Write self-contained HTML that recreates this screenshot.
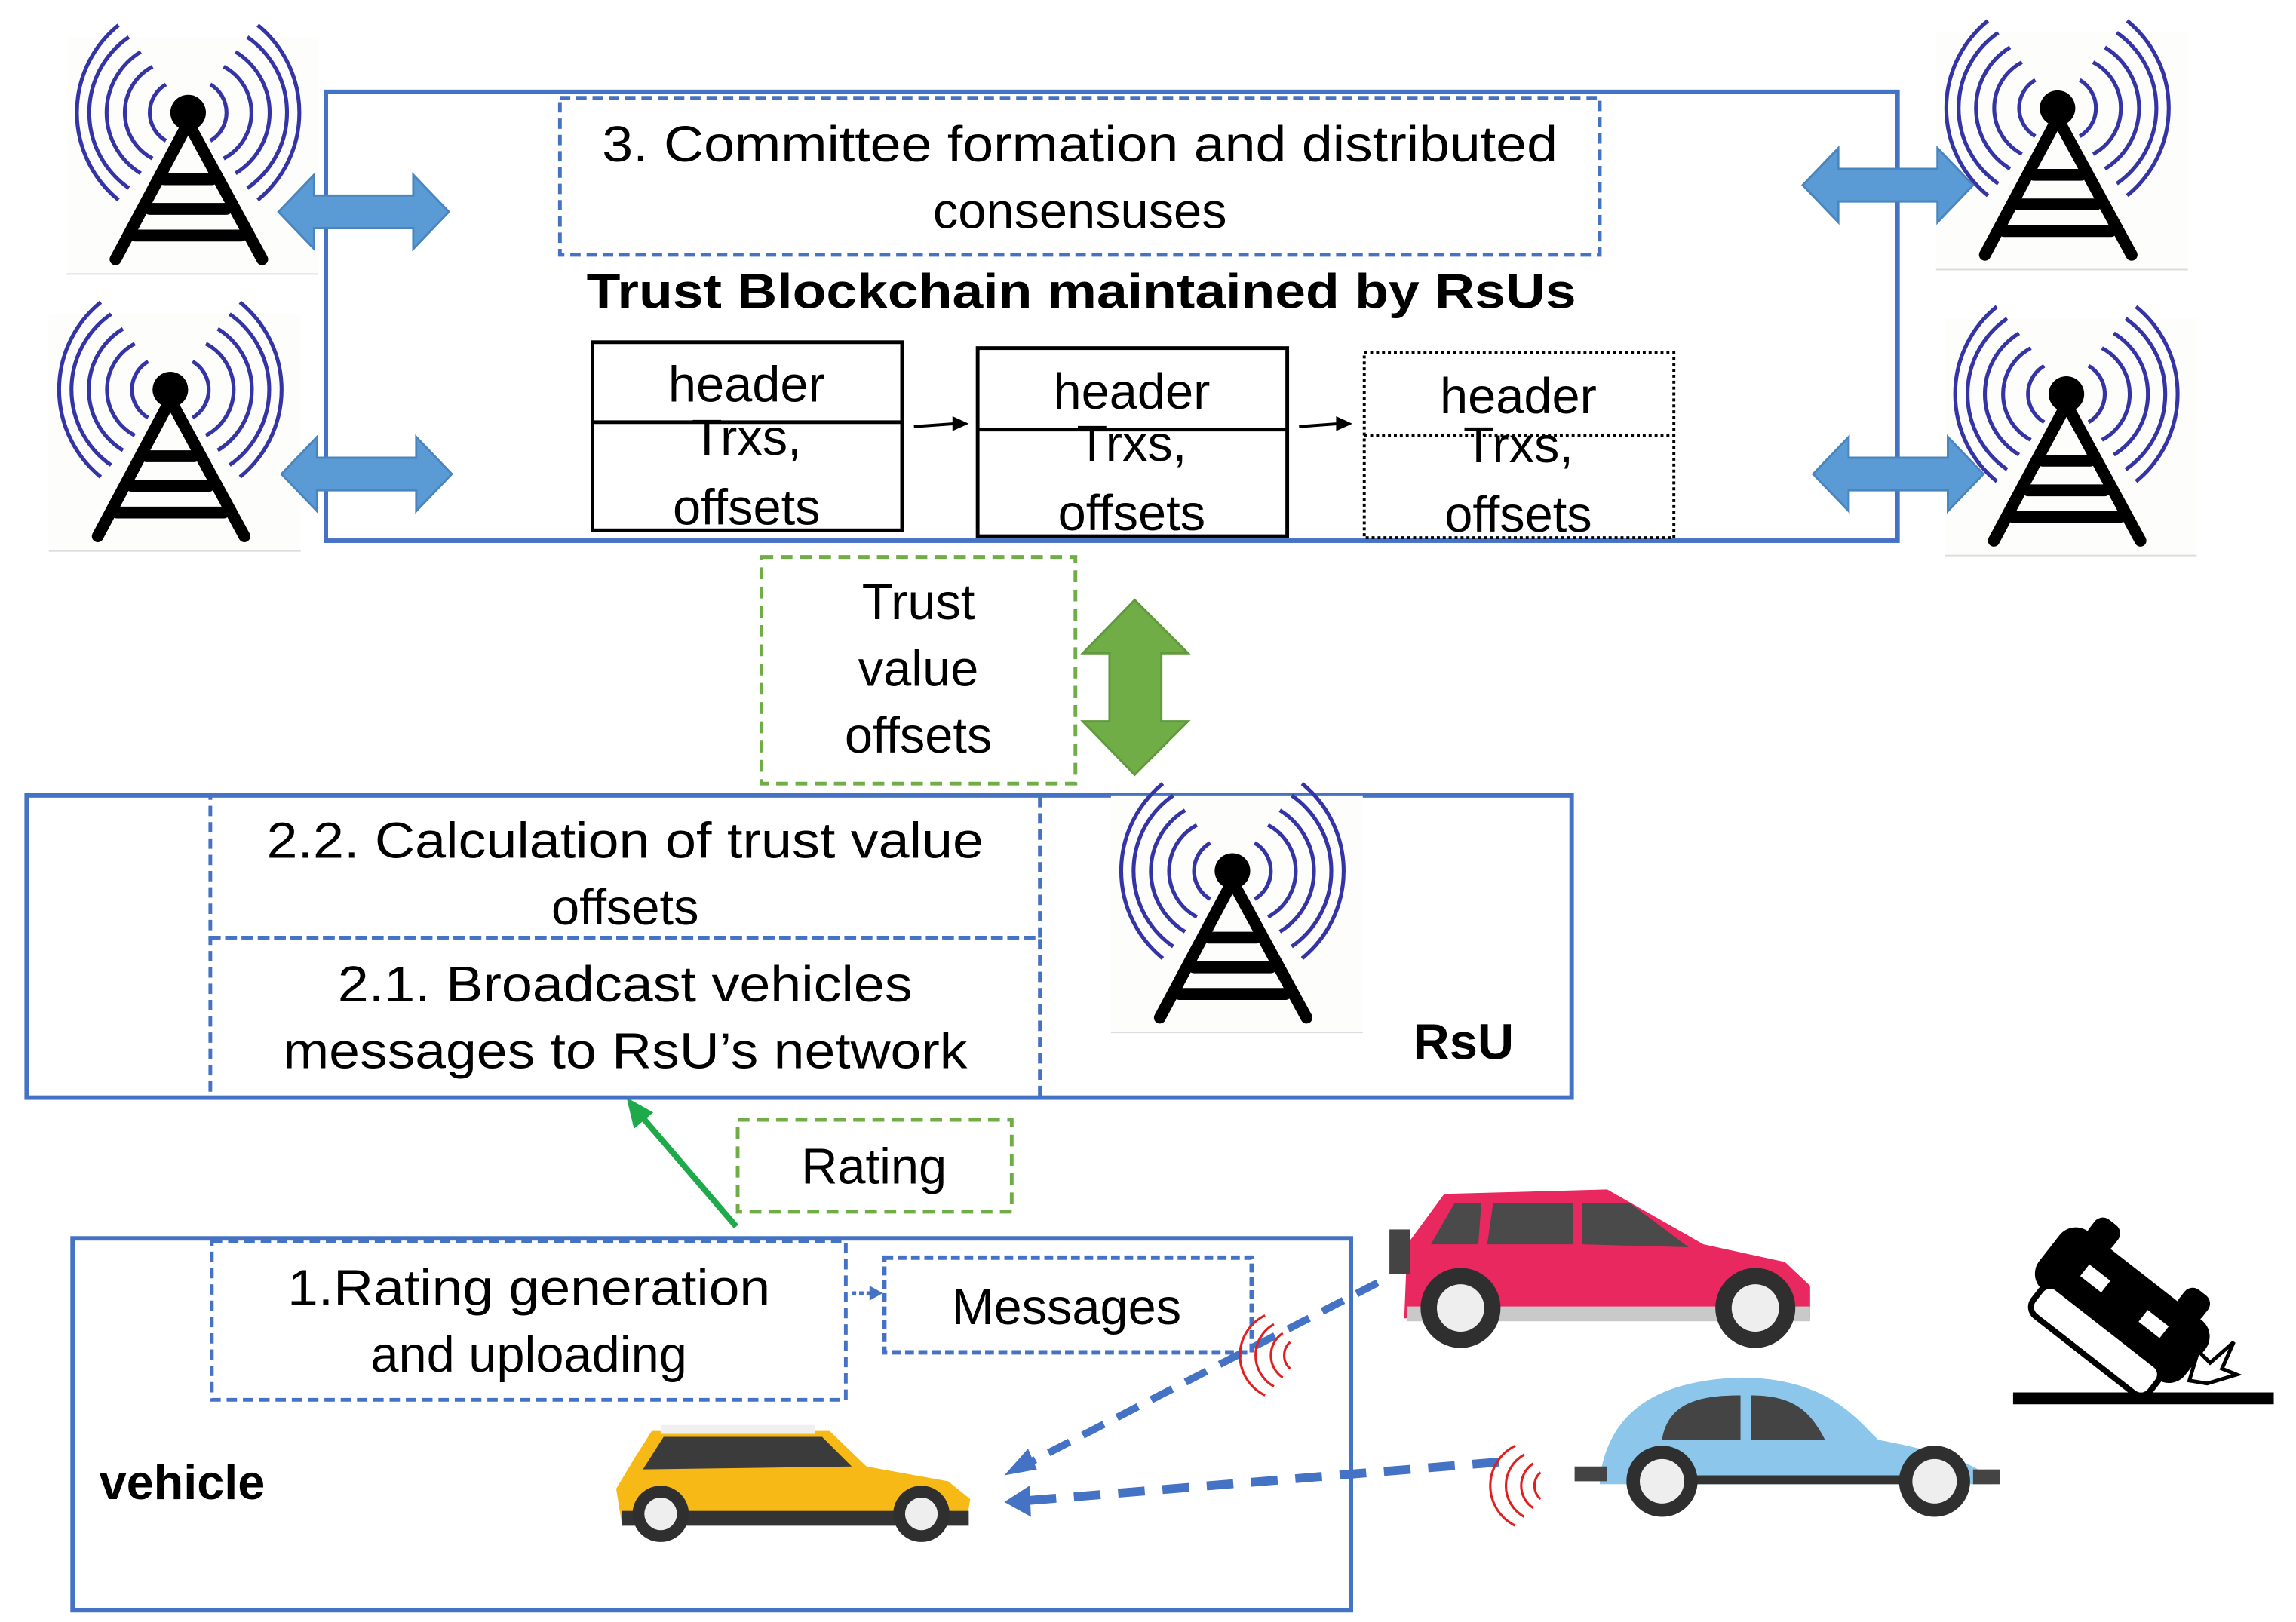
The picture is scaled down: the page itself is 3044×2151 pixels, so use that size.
<!DOCTYPE html>
<html><head><meta charset="utf-8"><style>
html,body{margin:0;padding:0;background:#fff;}
svg{display:block;}
text{font-family:"Liberation Sans",Arial,sans-serif;fill:#000;}
</style></head><body>
<svg width="3044" height="2151" viewBox="0 0 1550 1095" preserveAspectRatio="none" xmlns="http://www.w3.org/2000/svg">
<defs>
<g id="tower">
  <rect x="0" y="0" width="170" height="160" fill="#fdfdfb"/>
  <line x1="0" y1="160" x2="170" y2="160" stroke="#ddd" stroke-width="1"/>
  <g fill="none" stroke="#3434a6" stroke-width="2.6">
    <path d="M67,32 A22,22 0 0 0 67,70"/><path d="M97,32 A22,22 0 0 1 97,70"/>
    <path d="M58,20 A35,35 0 0 0 58,82"/><path d="M106,20 A35,35 0 0 1 106,82"/>
    <path d="M50,10 A48,48 0 0 0 50,92"/><path d="M114,10 A48,48 0 0 1 114,92"/>
    <path d="M42,0 A62,62 0 0 0 42,102"/><path d="M122,0 A62,62 0 0 1 122,102"/>
    <path d="M35,-8 A76,76 0 0 0 35,110"/><path d="M129,-8 A76,76 0 0 1 129,110"/>
  </g>
  <circle cx="82" cy="51" r="12" fill="#000"/>
  <g stroke="#000" stroke-width="8" stroke-linecap="round" fill="none">
    <path d="M82,58 L33,150 M82,58 L132,150"/>
    <line x1="66" y1="96" x2="98" y2="96"/>
    <line x1="56" y1="116" x2="108" y2="116"/>
    <line x1="46" y1="134" x2="118" y2="134"/>
  </g>
</g>
<g id="harrow">
  <path d="M0,25 L24,0 L24,14 L91,14 L91,0 L115,25 L91,50 L91,36 L24,36 L24,50 Z" fill="#5b9bd5" stroke="#4a86bd" stroke-width="1.5"/>
</g>
<g id="signal" fill="none" stroke="#e02020" stroke-width="1.6">
  <path d="M18,8 A30,30 0 0 0 18,62"/>
  <path d="M24,14 A24,24 0 0 0 24,56"/>
  <path d="M30,20 A18,18 0 0 0 30,50"/>
  <path d="M35,26 A12,12 0 0 0 35,44"/>
</g>
</defs>

<rect x="220" y="62" width="1061" height="303" fill="none" stroke="#4472c4" stroke-width="3"/>
<rect x="378" y="66" width="702" height="106" fill="none" stroke="#4472c4" stroke-width="2.5" stroke-dasharray="7,4"/>
<text x="729" y="109" font-size="34" text-anchor="middle" textLength="645" lengthAdjust="spacingAndGlyphs">3. Committee formation and distributed</text>
<text x="729" y="154" font-size="34" text-anchor="middle">consensuses</text>
<text x="730" y="208" font-size="33" font-weight="bold" text-anchor="middle" textLength="668" lengthAdjust="spacingAndGlyphs">Trust Blockchain maintained by RsUs</text>

<g font-size="34" text-anchor="middle">
<rect x="400" y="231" width="209" height="127" fill="#fff" stroke="#000" stroke-width="2.5"/>
<line x1="400" y1="285" x2="609" y2="285" stroke="#000" stroke-width="2.5"/>
<text x="504" y="271">header</text><text x="504" y="307">Trxs,</text><text x="504" y="354">offsets</text>
<rect x="660" y="235" width="209" height="127" fill="#fff" stroke="#000" stroke-width="2.5"/>
<line x1="660" y1="290" x2="869" y2="290" stroke="#000" stroke-width="2.5"/>
<text x="764" y="276">header</text><text x="764" y="311">Trxs,</text><text x="764" y="358">offsets</text>
<rect x="921" y="238" width="209" height="125" fill="#fff" stroke="#000" stroke-width="2" stroke-dasharray="2,2"/>
<line x1="921" y1="294" x2="1130" y2="294" stroke="#000" stroke-width="2" stroke-dasharray="2,2"/>
<text x="1025" y="279">header</text><text x="1025" y="312">Trxs,</text><text x="1025" y="359">offsets</text>
</g>
<line x1="617" y1="288" x2="645" y2="286" stroke="#000" stroke-width="2"/>
<path d="M643,281 L654,286 L643,291 Z" fill="#000"/>
<line x1="877" y1="288" x2="904" y2="286" stroke="#000" stroke-width="2"/>
<path d="M902,281 L913,286 L902,291 Z" fill="#000"/>

<use href="#tower" x="45" y="25"/>
<use href="#tower" x="33" y="212"/>
<use href="#tower" x="1307" y="22"/>
<use href="#tower" x="1313" y="215"/>
<use href="#harrow" x="188" y="118"/>
<use href="#harrow" x="190" y="295"/>
<use href="#harrow" x="1217" y="100"/>
<use href="#harrow" x="1224" y="295"/>

<rect x="514" y="376" width="212" height="153" fill="none" stroke="#70ad47" stroke-width="2.5" stroke-dasharray="8,5"/>
<g font-size="34" text-anchor="middle">
<text x="620" y="418">Trust</text><text x="620" y="463">value</text><text x="620" y="508">offsets</text>
</g>
<path d="M766,405 L802,441 L784,441 L784,487 L802,487 L766,523 L731,487 L749,487 L749,441 L731,441 Z" fill="#70ad47" stroke="#5f9a3b" stroke-width="1.5"/>

<rect x="18" y="537" width="1043" height="204" fill="none" stroke="#4472c4" stroke-width="3"/>
<rect x="142" y="537" width="560" height="96" fill="none" stroke="#4472c4" stroke-width="2.5" stroke-dasharray="7,4"/>
<rect x="142" y="633" width="560" height="108" fill="none" stroke="#4472c4" stroke-width="2.5" stroke-dasharray="7,4"/>
<g font-size="34" text-anchor="middle">
<text x="422" y="579" textLength="484" lengthAdjust="spacingAndGlyphs">2.2. Calculation of trust value</text>
<text x="422" y="624">offsets</text>
<text x="422" y="676" textLength="388" lengthAdjust="spacingAndGlyphs">2.1. Broadcast vehicles</text>
<text x="422" y="721" textLength="462" lengthAdjust="spacingAndGlyphs">messages to RsU’s network</text>
</g>
<use href="#tower" x="750" y="537"/>
<text x="988" y="715" font-size="34" font-weight="bold" text-anchor="middle">RsU</text>

<line x1="497" y1="828" x2="430" y2="750" stroke="#1ea94a" stroke-width="4"/>
<path d="M423,741 L441,751 L428,762 Z" fill="#1ea94a"/>
<rect x="498" y="756" width="185" height="62" fill="#fff" stroke="#70ad47" stroke-width="2.5" stroke-dasharray="8,5"/>
<text x="590" y="799" font-size="34" text-anchor="middle">Rating</text>

<rect x="49" y="836" width="863" height="251" fill="none" stroke="#4472c4" stroke-width="3"/>
<rect x="143" y="838" width="428" height="107" fill="none" stroke="#4472c4" stroke-width="2.5" stroke-dasharray="7,4"/>
<text x="357" y="881" font-size="34" text-anchor="middle" textLength="326" lengthAdjust="spacingAndGlyphs">1.Rating generation</text>
<text x="357" y="926" font-size="34" text-anchor="middle">and uploading</text>
<line x1="575" y1="873" x2="588" y2="873" stroke="#4472c4" stroke-width="2.5" stroke-dasharray="3,2"/>
<path d="M587,868 L596,873 L587,878 Z" fill="#4472c4"/>
<rect x="597" y="849" width="248" height="64" fill="#fff" stroke="#4472c4" stroke-width="3" stroke-dasharray="6,3"/>
<text x="720" y="894" font-size="34" text-anchor="middle">Messages</text>
<text x="67" y="1012" font-size="33" font-weight="bold">vehicle</text>

<line x1="930" y1="866" x2="692" y2="989" stroke="#4472c4" stroke-width="5" stroke-dasharray="16,10"/>
<path d="M678,996 L694,978 L700,992 Z" fill="#4472c4"/>
<line x1="1012" y1="987" x2="694" y2="1013" stroke="#4472c4" stroke-width="6" stroke-dasharray="18,12"/>
<path d="M678,1014 L695,1003 L696,1024 Z" fill="#4472c4"/>
<use href="#signal" x="836" y="880"/>
<use href="#signal" x="1005" y="968"/>

<!-- yellow car -->
<g>
<path d="M428,985 L440,966 L560,966 L585,990 L640,1000 L655,1012 L652,1030 L420,1030 L416,1005 Z" fill="#f6b915"/>
<path d="M434,992 L448,970 L555,970 L575,990 Z" fill="#3b3b3b"/>
<rect x="446" y="962" width="104" height="6" fill="#f0f0f0"/>
<rect x="420" y="1020" width="234" height="10" fill="#333"/>
<circle cx="446" cy="1022" r="19" fill="#2f2f2f"/><circle cx="446" cy="1022" r="11" fill="#eee"/>
<circle cx="622" cy="1022" r="19" fill="#2f2f2f"/><circle cx="622" cy="1022" r="11" fill="#eee"/>
</g>
<!-- red car -->
<g>
<path d="M950,840 L975,806 L1085,803 L1150,840 L1205,852 L1222,868 L1222,890 L948,890 Z" fill="#e8285f"/>
<path d="M966,840 L982,812 L1000,812 L998,840 Z M1004,840 L1008,812 L1062,812 L1062,840 Z M1068,840 L1068,812 L1100,812 L1140,842 Z" fill="#4a4a4a"/>
<rect x="938" y="830" width="14" height="30" fill="#444"/>
<rect x="950" y="882" width="272" height="10" fill="#c9c9c9"/>
<circle cx="986" cy="883" r="27" fill="#2f2f2f"/><circle cx="986" cy="883" r="16" fill="#eee"/>
<circle cx="1185" cy="883" r="27" fill="#2f2f2f"/><circle cx="1185" cy="883" r="16" fill="#eee"/>
</g>
<!-- blue car -->
<g>
<path d="M1080,998 C1085,960 1110,932 1175,930 C1235,930 1255,960 1268,972 C1310,980 1342,990 1345,1002 L1080,1002 Z" fill="#8cc6ea"/>
<path d="M1122,972 C1126,948 1145,942 1175,942 L1175,972 Z M1182,972 L1182,942 C1210,942 1222,952 1232,972 Z" fill="#444"/>
<rect x="1130" y="996" width="175" height="6" fill="#333"/>
<rect x="1063" y="990" width="22" height="10" fill="#444"/>
<rect x="1332" y="992" width="18" height="10" fill="#444"/>
<circle cx="1122" cy="1000" r="24" fill="#2f2f2f"/><circle cx="1122" cy="1000" r="15" fill="#eee"/>
<circle cx="1306" cy="1000" r="24" fill="#2f2f2f"/><circle cx="1306" cy="1000" r="15" fill="#eee"/>
</g>
<!-- crashed car -->
<g>
<rect x="1359" y="940" width="176" height="8" fill="#000"/>
<g transform="rotate(38 1432 878)">
<rect x="1372" y="855" width="125" height="50" rx="14" fill="#000"/>
<rect x="1385" y="898" width="100" height="24" rx="8" fill="#fff" stroke="#000" stroke-width="4"/>
<rect x="1385" y="840" width="20" height="20" rx="7" fill="#000"/>
<rect x="1462" y="840" width="20" height="20" rx="7" fill="#000"/>
<rect x="1400" y="872" width="18" height="10" fill="#fff"/>
<rect x="1450" y="872" width="18" height="10" fill="#fff"/>
</g>
<path d="M1478,932 L1484,912 L1492,920 L1508,906 L1500,924 L1510,928 L1490,934 Z" fill="#fff" stroke="#000" stroke-width="2.5"/>
</g>
</svg>
</body></html>
